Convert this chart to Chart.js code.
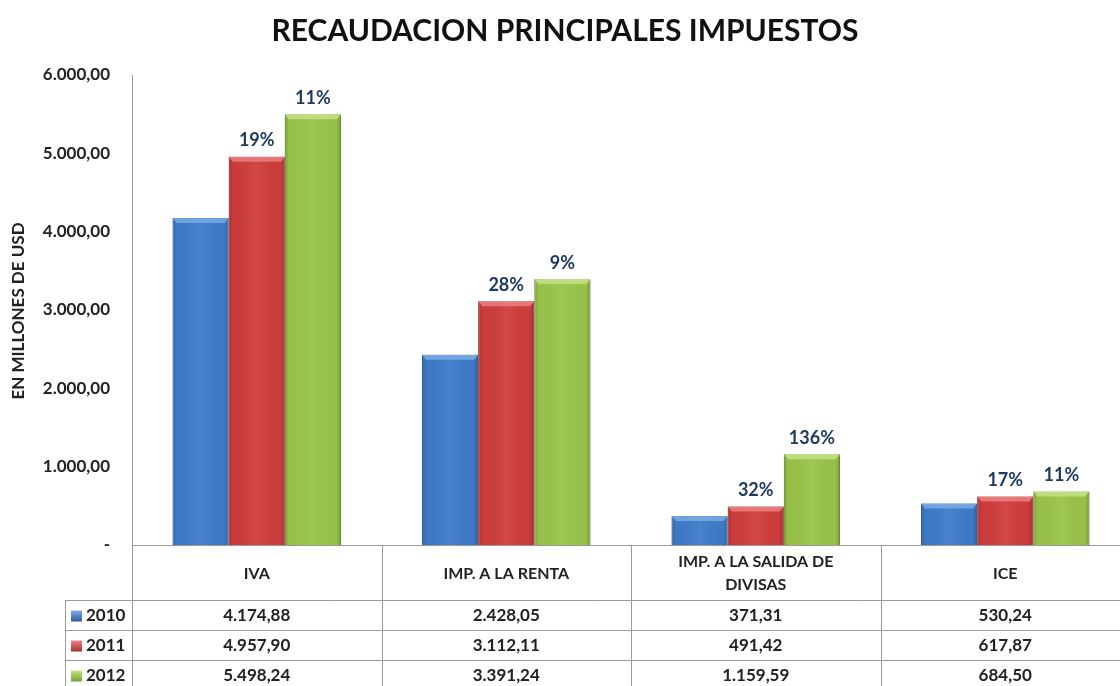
<!DOCTYPE html>
<html><head><meta charset="utf-8">
<script src="https://cdn.jsdelivr.net/npm/chart.js@4.4.0/dist/chart.umd.min.js"></script>
<style>html,body{margin:0;padding:0;overflow:hidden;background:#fff}</style>
</head>
<body><canvas id="c" width="1130" height="686"></canvas>
<script>
const chartTitle = "RECAUDACION PRINCIPALES IMPUESTOS";
const yAxisTitle = "EN MILLONES DE USD";
const categories = ["IVA", "IMP. A LA RENTA", ["IMP. A LA SALIDA DE", "DIVISAS"], "ICE"];
const years = ["2010", "2011", "2012"];
const values2010 = [4174.88, 2428.05, 371.31, 530.24];
const values2011 = [4957.90, 3112.11, 491.42, 617.87];
const values2012 = [5498.24, 3391.24, 1159.59, 684.50];
const growth2011 = ["19%", "28%", "32%", "17%"];
const growth2012 = ["11%", "9%", "136%", "11%"];
const yMin = 0, yMax = 6000, yStep = 1000;

const FONT = "Lato, 'Open Sans', sans-serif";
const colors = ["#3E7BC9", "#CF3C3C", "#99C449"];
const darks = ["#2C5C9C", "#A52E2E", "#76A032"];
const lights = ["#7FAEE6", "#EE8383", "#C6E487"];

function fmt(v) {
  if (v === 0) return "-";
  const neg = v < 0; v = Math.abs(v);
  const parts = v.toFixed(2).split(".");
  const intp = parts[0].replace(/\B(?=(\d{3})+(?!\d))/g, ".");
  return (neg ? "-" : "") + intp + "," + parts[1];
}

const seriesValues = [values2010, values2011, values2012];
const growthLabels = [null, growth2011, growth2012];

const TABLE_LEFT = 65;
const ROW_H = 30;
const HEADER_H = 55;

const decor = {
  id: "decor",
  afterDatasetsDraw(chart) {
    const ctx = chart.ctx;
    chart.data.datasets.forEach((ds, di) => {
      const meta = chart.getDatasetMeta(di);
      meta.data.forEach((el) => {
        const x0 = el.x - el.width / 2, x1 = el.x + el.width / 2, top = el.y, base = el.base;
        const g = ctx.createLinearGradient(x0, 0, x1, 0);
        g.addColorStop(0, "rgba(0,0,0,0.18)");
        g.addColorStop(0.08, "rgba(0,0,0,0.02)");
        g.addColorStop(0.5, "rgba(255,255,255,0.06)");
        g.addColorStop(0.92, "rgba(0,0,0,0.02)");
        g.addColorStop(1, "rgba(0,0,0,0.22)");
        ctx.save();
        ctx.fillStyle = g;
        ctx.fillRect(x0, top, x1 - x0, base - top);
        ctx.fillStyle = lights[di];
        ctx.beginPath();
        ctx.moveTo(x0, top); ctx.lineTo(x1, top); ctx.lineTo(x1 - 4, top + 5); ctx.lineTo(x0 + 4, top + 5); ctx.closePath();
        ctx.globalAlpha = 0.8; ctx.fill();
        ctx.restore();
      });
    });
    ctx.save();
    ctx.font = "bold 18px " + FONT;
    ctx.fillStyle = "#1F3A60";
    ctx.textAlign = "center";
    ctx.textBaseline = "bottom";
    chart.data.datasets.forEach((ds, di) => {
      const labels = growthLabels[di];
      if (!labels) return;
      const meta = chart.getDatasetMeta(di);
      meta.data.forEach((el, i) => {
        ctx.fillText(labels[i], el.x, el.y - 7);
      });
    });
    ctx.restore();
  },
  afterDraw(chart) {
    const ctx = chart.ctx;
    const area = chart.chartArea;
    const xs = chart.scales.x;
    const n = categories.length;
    const catW = (area.right - area.left) / n;
    ctx.save();
    ctx.font = "bold 30px " + FONT;
    ctx.fillStyle = "#111";
    ctx.textAlign = "center";
    ctx.textBaseline = "middle";
    ctx.fillText(chartTitle, 565, 31);
    ctx.save();
    ctx.translate(19, 311);
    ctx.rotate(-Math.PI / 2);
    ctx.font = "bold 17px " + FONT;
    ctx.fillStyle = "#222";
    ctx.fillText(yAxisTitle, 0, 0);
    ctx.restore();

    const tTop = area.bottom;
    const rowsTop = tTop + HEADER_H;
    const tBottom = rowsTop + ROW_H * years.length;
    ctx.strokeStyle = "#9a9a9a";
    ctx.lineWidth = 1;
    ctx.beginPath();
    ctx.moveTo(area.left, tTop + 0.5); ctx.lineTo(area.right, tTop + 0.5);
    for (let r = 0; r <= years.length; r++) {
      const y = Math.round(rowsTop + r * ROW_H) + 0.5;
      ctx.moveTo(TABLE_LEFT, y); ctx.lineTo(area.right, y);
    }
    for (let c = 0; c <= n; c++) {
      const x = Math.round(area.left + c * catW) + 0.5;
      ctx.moveTo(x, tTop); ctx.lineTo(x, tBottom);
    }
    ctx.moveTo(TABLE_LEFT + 0.5, rowsTop); ctx.lineTo(TABLE_LEFT + 0.5, tBottom);
    ctx.stroke();

    ctx.fillStyle = "#222";
    ctx.font = "bold 16px " + FONT;
    ctx.textAlign = "center";
    ctx.textBaseline = "middle";
    categories.forEach((lab, i) => {
      const cx = xs.getPixelForValue(i);
      const lines = Array.isArray(lab) ? lab : [lab];
      const lh = 23;
      const y0 = tTop + HEADER_H / 2 - (lines.length - 1) * lh / 2 + 1;
      lines.forEach((l, k) => ctx.fillText(l, cx, y0 + k * lh));
    });
    years.forEach((yr, r) => {
      const cy = rowsTop + r * ROW_H + ROW_H / 2 + 1;
      const kx = 71, ks = 11;
      const g = ctx.createLinearGradient(0, cy - ks / 2, 0, cy + ks / 2);
      g.addColorStop(0, lights[r]); g.addColorStop(1, darks[r]);
      ctx.fillStyle = g;
      ctx.fillRect(kx, cy - ks / 2, ks, ks);
      ctx.fillStyle = "#222";
      ctx.font = "bold 17px " + FONT;
      ctx.textAlign = "left";
      ctx.fillText(yr, kx + ks + 4, cy);
      ctx.textAlign = "center";
      seriesValues[r].forEach((v, i) => {
        ctx.fillText(fmt(v), xs.getPixelForValue(i), cy);
      });
    });
    ctx.restore();
  }
};

new Chart(document.getElementById("c"), {
  type: "bar",
  data: {
    labels: categories,
    datasets: years.map((yr, i) => ({
      label: yr,
      data: seriesValues[i],
      backgroundColor: colors[i],
      borderColor: darks[i],
      borderWidth: 1,
      categoryPercentage: 0.675,
      barPercentage: 1.0
    }))
  },
  options: {
    responsive: false,
    animation: false,
    layout: { padding: { top: 75, bottom: 141, left: 0, right: 0 } },
    plugins: { legend: { display: false }, title: { display: false }, tooltip: { enabled: false } },
    scales: {
      x: {
        display: false,
        grid: { display: false }
      },
      y: {
        min: yMin, max: yMax,
        afterFit(scale) { scale.width = 132; },
        grid: { display: false, drawTicks: false },
        border: { display: true, color: "#9a9a9a", width: 1 },
        ticks: {
          stepSize: yStep,
          padding: 22,
          color: "#222",
          font: { family: FONT, size: 17, weight: "bold" },
          callback: (v) => fmt(v)
        }
      }
    }
  },
  plugins: [decor]
});
</script>
</body></html>
